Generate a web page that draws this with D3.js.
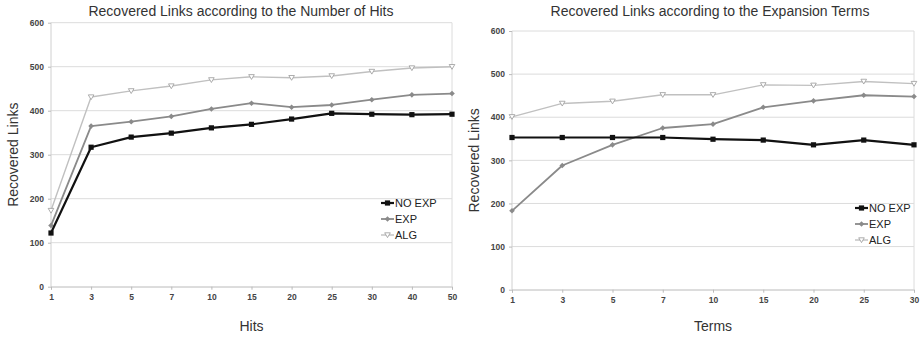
<!DOCTYPE html>
<html>
<head>
<meta charset="utf-8">
<script src="https://cdn.jsdelivr.net/npm/d3@7"></script>
<style>
body{margin:0;background:#fff;}
svg{display:block;}
text{font-family:"Liberation Sans",Arial,sans-serif;}
</style>
</head>
<body>
<svg id="c" width="924" height="337"></svg>
<script>
// ---- data ----
const hitsCategories = ["1","3","5","7","10","15","20","25","30","40","50"];
const hitsNoExp = [122,317,340,349,361,369,381,394,392,391,392];
const hitsExp   = [139,365,375,387,404,417,408,413,425,436,439];
const hitsAlg   = [173,431,445,456,470,477,475,479,489,497,500];

const termsCategories = ["1","3","5","7","10","15","20","25","30"];
const termsNoExp = [353,353,353,353,349,347,336,347,336];
const termsExp   = [183,288,336,375,384,423,438,451,448];
const termsAlg   = [401,432,437,452,452,475,474,483,478];

const yTicks = [0,100,200,300,400,500,600];
const seriesNames = ["NO EXP","EXP","ALG"];

const svg = d3.select("#c");

const styles = [
  {color:"#111", width:2.2, marker:"square"},
  {color:"#8a8a8a", width:1.8, marker:"diamond"},
  {color:"#c0c0c0", width:1.4, marker:"triangle"}
];

function marker(g, type, x, y, color){
  if(type==="square"){
    g.append("rect").attr("x",x-2.6).attr("y",y-2.6).attr("width",5.2).attr("height",5.2).attr("fill",color);
  } else if(type==="diamond"){
    g.append("path").attr("d",`M${x},${y-2.8}L${x+2.8},${y}L${x},${y+2.8}L${x-2.8},${y}Z`).attr("fill",color);
  } else {
    g.append("path").attr("d",`M${x-2.8},${y-2.2}L${x+2.8},${y-2.2}L${x},${y+2.6}Z`)
      .attr("fill","#fff").attr("stroke","#999").attr("stroke-width",0.8);
  }
}

function drawChart(cfg){
  const g = svg.append("g");
  const x = d3.scalePoint().domain(cfg.categories).range([cfg.x0, cfg.x1]);
  const y = d3.scaleLinear().domain([0,600]).range([cfg.y0, cfg.y1]);

  // gridlines
  g.append("g").selectAll("line").data(yTicks).join("line")
    .attr("x1",cfg.x0).attr("x2",cfg.x1)
    .attr("y1",d=>y(d)).attr("y2",d=>y(d))
    .attr("stroke","#dcdcdc").attr("stroke-width",1);
  // frame sides
  g.append("line").attr("x1",cfg.x0).attr("x2",cfg.x0).attr("y1",y(600)).attr("y2",y(0)).attr("stroke","#d0d0d0");
  g.append("line").attr("x1",cfg.x1).attr("x2",cfg.x1).attr("y1",y(600)).attr("y2",y(0)).attr("stroke","#dcdcdc");

  // y axis
  const ya = g.append("g").attr("transform",`translate(${cfg.x0},0)`)
    .call(d3.axisLeft(y).tickValues(yTicks).tickSize(3).tickPadding(4).tickFormat(d3.format("d")));
  ya.select(".domain").remove();
  ya.selectAll("line").attr("stroke","#bbb");
  ya.selectAll("text").attr("font-size",8.5).attr("fill","#444").attr("font-weight","bold");

  // x axis
  const xa = g.append("g").attr("transform",`translate(0,${cfg.y0})`)
    .call(d3.axisBottom(x).tickSize(3).tickPadding(4));
  xa.select(".domain").attr("stroke","#d0d0d0");
  xa.selectAll("line").attr("stroke","#bbb");
  xa.selectAll("text").attr("font-size",8.5).attr("fill","#444").attr("font-weight","bold");

  // lines (draw ALG first so NO EXP on top)
  const series = [cfg.noExp, cfg.exp, cfg.alg];
  [2,1,0].forEach(i=>{
    const data = series[i];
    const line = d3.line().x((d,j)=>x(cfg.categories[j])).y(d=>y(d));
    g.append("path").datum(data).attr("d",line).attr("fill","none")
      .attr("stroke",styles[i].color).attr("stroke-width",styles[i].width).attr("stroke-linejoin","round");
    data.forEach((d,j)=>marker(g, styles[i].marker, x(cfg.categories[j]), y(d), styles[i].color));
  });

  // title
  g.append("text").attr("x",cfg.titleX).attr("y",16).attr("text-anchor","middle")
    .attr("font-size",14).attr("fill","#333").text(cfg.title);
  // y label
  g.append("text").attr("transform",`translate(${cfg.yLabelX},${(y(0)+y(600))/2}) rotate(-90)`)
    .attr("text-anchor","middle").attr("font-size",14).attr("fill","#333").text("Recovered Links");
  // x label
  g.append("text").attr("x",(cfg.x0+cfg.x1)/2).attr("y",331).attr("text-anchor","middle")
    .attr("font-size",14).attr("fill","#333").text(cfg.xLabel);

  // legend
  seriesNames.forEach((n,i)=>{
    const ly = cfg.legY + i*16;
    g.append("line").attr("x1",cfg.legX).attr("x2",cfg.legX+13).attr("y1",ly).attr("y2",ly)
      .attr("stroke",styles[i].color).attr("stroke-width",styles[i].width);
    marker(g, styles[i].marker, cfg.legX+6.5, ly, styles[i].color);
    g.append("text").attr("x",cfg.legX+14).attr("y",ly+4).attr("font-size",11).attr("fill","#222").text(n);
  });
}

drawChart({
  categories:hitsCategories, noExp:hitsNoExp, exp:hitsExp, alg:hitsAlg,
  x0:51, x1:452, y0:286.7, y1:22.7,
  title:"Recovered Links according to the Number of Hits", titleX:241,
  xLabel:"Hits", yLabelX:18, legX:381, legY:203
});
drawChart({
  categories:termsCategories, noExp:termsNoExp, exp:termsExp, alg:termsAlg,
  x0:512, x1:914, y0:289.7, y1:31,
  title:"Recovered Links according to the Expansion Terms", titleX:710,
  xLabel:"Terms", yLabelX:479, legX:855, legY:208
});
</script>
</body>
</html>
